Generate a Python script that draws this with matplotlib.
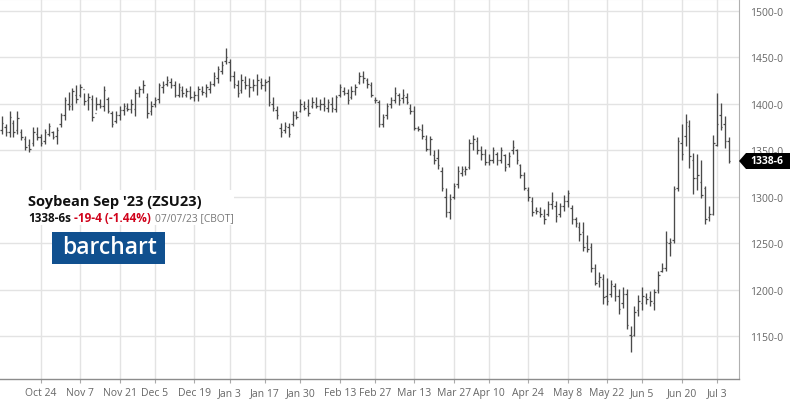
import numpy as np
import pandas as pd
import matplotlib
matplotlib.use("Agg")
import matplotlib.pyplot as plt
from matplotlib.patches import Rectangle, Polygon

plt.rcParams["font.family"] = ["Open Sans", "DejaVu Sans"]

# ---------------- data ----------------
HOLIDAYS = ["2022-11-24", "2022-12-26", "2023-01-02", "2023-01-16", "2023-02-20",
            "2023-04-07", "2023-05-29", "2023-06-19", "2023-07-04"]
DATES = pd.bdate_range("2022-10-10", "2023-07-07", freq="C", holidays=HOLIDAYS)

HIGH = [1387, 1378, 1392, 1383, 1392, 1373, 1366, 1362, 1375, 1375,
        1368, 1373, 1380, 1371, 1375, 1390, 1408, 1413, 1417, 1420,
        1422, 1412, 1412, 1410, 1408, 1405, 1419, 1408, 1392, 1392,
        1398, 1401, 1401, 1405, 1416, 1419, 1426, 1412, 1403, 1407,
        1423, 1425, 1430, 1428, 1425, 1423, 1419, 1417, 1419, 1414,
        1419, 1419, 1421, 1425, 1434, 1441, 1446, 1460, 1448, 1435,
        1426, 1432, 1430, 1428, 1427, 1432, 1428, 1427, 1430, 1407,
        1398, 1380, 1381, 1380, 1392, 1392, 1405, 1403, 1405, 1407,
        1407, 1405, 1407, 1405, 1407, 1410, 1421, 1418, 1416, 1419,
        1421, 1434, 1435, 1428, 1424, 1407, 1404, 1389, 1401, 1408,
        1418, 1412, 1416, 1412, 1400, 1398, 1376, 1378, 1367, 1366,
        1351, 1352, 1332, 1310, 1303, 1315, 1333, 1333, 1333, 1362,
        1367, 1364, 1355, 1352, 1346, 1354, 1348, 1354, 1346, 1348,
        1361, 1352, 1336, 1327, 1311, 1300, 1289, 1289, 1287, 1296,
        1305, 1296, 1294, 1302, 1307, 1291, 1278, 1273, 1273, 1259,
        1251, 1228, 1219, 1217, 1213, 1211, 1208, 1201, 1203, 1201,
        1161, 1183, 1195, 1203, 1197, 1199, 1201, 1220, 1229, 1263,
        1256, 1312, 1365, 1378, 1389, 1383, 1347, 1346, 1340, 1312,
        1290, 1367, 1412, 1401, 1387, 1365]
LOW = [1368, 1366, 1364, 1364, 1368, 1361, 1350, 1348, 1355, 1361,
       1355, 1357, 1366, 1362, 1357, 1375, 1383, 1394, 1394, 1401,
       1408, 1399, 1394, 1382, 1394, 1396, 1392, 1390, 1375, 1380,
       1383, 1388, 1392, 1390, 1387, 1408, 1412, 1385, 1388, 1397,
       1401, 1412, 1419, 1417, 1407, 1407, 1408, 1407, 1405, 1403,
       1403, 1410, 1407, 1412, 1419, 1423, 1432, 1443, 1425, 1417,
       1407, 1412, 1416, 1408, 1414, 1410, 1416, 1414, 1398, 1392,
       1384, 1364, 1369, 1364, 1376, 1384, 1391, 1394, 1387, 1396,
       1396, 1394, 1392, 1391, 1391, 1391, 1407, 1410, 1400, 1405,
       1410, 1421, 1423, 1417, 1408, 1401, 1375, 1375, 1384, 1396,
       1401, 1399, 1401, 1400, 1389, 1372, 1371, 1362, 1349, 1345,
       1335, 1330, 1306, 1278, 1276, 1298, 1310, 1323, 1324, 1330,
       1351, 1346, 1340, 1334, 1334, 1337, 1334, 1337, 1328, 1332,
       1346, 1336, 1320, 1307, 1296, 1280, 1282, 1278, 1271, 1280,
       1287, 1273, 1278, 1285, 1289, 1271, 1268, 1253, 1242, 1241,
       1219, 1205, 1203, 1185, 1184, 1192, 1188, 1174, 1181, 1158,
       1133, 1151, 1172, 1179, 1185, 1183, 1179, 1197, 1219, 1220,
       1237, 1251, 1306, 1340, 1355, 1331, 1303, 1308, 1299, 1271,
       1274, 1281, 1355, 1372, 1353, 1337]
OPEN = [1372, 1375, 1370, 1380, 1372, 1370, 1362, 1356, 1358, 1368,
        1364, 1360, 1368, 1370, 1366, 1378, 1388, 1400, 1400, 1410,
        1410, 1416, 1404, 1405, 1390, 1400, 1398, 1405, 1390, 1382,
        1388, 1394, 1396, 1395, 1395, 1412, 1416, 1408, 1392, 1400,
        1405, 1418, 1422, 1424, 1420, 1410, 1415, 1410, 1414, 1408,
        1410, 1414, 1412, 1416, 1422, 1428, 1436, 1446, 1445, 1430,
        1420, 1415, 1424, 1420, 1418, 1420, 1424, 1420, 1425, 1400,
        1394, 1374, 1372, 1375, 1378, 1388, 1392, 1398, 1398, 1398,
        1400, 1398, 1400, 1396, 1400, 1395, 1410, 1414, 1412, 1408,
        1414, 1424, 1430, 1426, 1420, 1404, 1402, 1378, 1388, 1400,
        1404, 1410, 1406, 1408, 1396, 1392, 1374, 1372, 1362, 1352,
        1345, 1342, 1328, 1300, 1284, 1300, 1314, 1326, 1328, 1332,
        1358, 1360, 1350, 1346, 1338, 1340, 1346, 1340, 1345, 1335,
        1350, 1350, 1334, 1324, 1308, 1296, 1286, 1284, 1280, 1282,
        1292, 1290, 1282, 1290, 1296, 1288, 1276, 1268, 1262, 1250,
        1246, 1224, 1210, 1212, 1194, 1196, 1204, 1194, 1186, 1196,
        1152, 1152, 1178, 1186, 1192, 1192, 1186, 1200, 1220, 1224,
        1250, 1254, 1310, 1358, 1366, 1376, 1340, 1320, 1316, 1310,
        1278, 1282, 1356, 1388, 1378, 1360]
CLOSE = [1380, 1370, 1386, 1370, 1385, 1364, 1354, 1352, 1370, 1365,
         1358, 1370, 1376, 1365, 1372, 1388, 1404, 1398, 1414, 1405,
         1418, 1403, 1408, 1386, 1400, 1398, 1415, 1393, 1378, 1388,
         1394, 1398, 1395, 1400, 1412, 1416, 1420, 1390, 1398, 1404,
         1420, 1420, 1426, 1420, 1410, 1418, 1412, 1414, 1408, 1410,
         1416, 1413, 1418, 1422, 1430, 1438, 1442, 1450, 1430, 1422,
         1412, 1426, 1420, 1418, 1420, 1426, 1420, 1424, 1402, 1396,
         1388, 1370, 1376, 1368, 1388, 1386, 1400, 1396, 1390, 1402,
         1398, 1400, 1398, 1402, 1396, 1408, 1418, 1412, 1404, 1414,
         1418, 1430, 1428, 1422, 1410, 1404, 1378, 1386, 1398, 1404,
         1412, 1404, 1410, 1402, 1392, 1374, 1373, 1366, 1352, 1362,
         1340, 1334, 1310, 1284, 1298, 1312, 1328, 1330, 1330, 1358,
         1362, 1350, 1346, 1338, 1340, 1350, 1340, 1350, 1332, 1344,
         1354, 1340, 1324, 1310, 1300, 1284, 1285, 1282, 1276, 1292,
         1296, 1280, 1290, 1296, 1304, 1276, 1272, 1260, 1246, 1244,
         1224, 1208, 1214, 1192, 1188, 1206, 1194, 1180, 1196, 1162,
         1150, 1176, 1188, 1194, 1190, 1188, 1198, 1216, 1224, 1252,
         1252, 1309, 1360, 1346, 1381, 1344, 1320, 1324, 1302, 1276,
         1282, 1358, 1378, 1375, 1360, 1338.75]

TICK_DATES = ["2022-10-24", "2022-11-07", "2022-11-21", "2022-12-05", "2022-12-19",
              "2023-01-03", "2023-01-17", "2023-01-30", "2023-02-13", "2023-02-27",
              "2023-03-13", "2023-03-27", "2023-04-10", "2023-04-24", "2023-05-08",
              "2023-05-22", "2023-06-05", "2023-06-20", "2023-07-03"]
TICK_LABELS = ["Oct 24", "Nov 7", "Nov 21", "Dec 5", "Dec 19", "Jan 3", "Jan 17",
               "Jan 30", "Feb 13", "Feb 27", "Mar 13", "Mar 27", "Apr 10", "Apr 24",
               "May 8", "May 22", "Jun 5", "Jun 20", "Jul 3"]
Y_TICKS = [1150, 1200, 1250, 1300, 1350, 1400, 1450, 1500]
LAST = "1338-6"
# -----------------------------------------------------------

W, H = 790, 406
fig = plt.figure(figsize=(W / 100, H / 100), dpi=100)
ax = fig.add_axes([0, 26 / H, 739 / W, 1 - 26 / H])

x = np.arange(len(DATES))
bar_col = "#4a4a4a"
ax.vlines(x, LOW, HIGH, color=bar_col, lw=0.95, zorder=3)
ax.hlines(OPEN, x - 0.38, x, color=bar_col, lw=0.9, zorder=3)
ax.hlines(CLOSE, x, x + 0.38, color=bar_col, lw=0.9, zorder=3)

ax.set_xlim(-0.43, 187.6)
ax.set_ylim(1104.3, 1512.9)

tick_pos = [DATES.get_loc(pd.Timestamp(d)) for d in TICK_DATES]
ax.set_xticks(tick_pos)
ax.set_xticklabels(TICK_LABELS)
ax.set_yticks(Y_TICKS)
ax.set_yticklabels([f"{v}-0" for v in Y_TICKS])
ax.yaxis.tick_right()

grid_col = "#e3e3e3"
ax.grid(True, color=grid_col, lw=1.0, zorder=0)
ax.tick_params(axis="x", length=3, width=0.8, color="#aaaaaa", pad=3,
               labelsize=7.5, labelcolor="#666666")
ax.tick_params(axis="y", length=0, pad=8, labelsize=7.5, labelcolor="#666666")
ax.spines["left"].set_visible(False)
ax.spines["top"].set_color(grid_col)
ax.spines["right"].set_color("#b0b0b0")
ax.spines["bottom"].set_color("#8c8c8c")
ax.spines["bottom"].set_linewidth(1.0)


def fx(px):
    return px / W


def fy(py):
    return 1 - py / H


# title block
fig.add_artist(Rectangle((0, fy(226)), fx(234), (226 - 191) / H,
                         transform=fig.transFigure, facecolor="white",
                         edgecolor="none", zorder=5))
fig.text(fx(28), fy(202), "Soybean Sep '23 (ZSU23)", fontsize=10.5,
         fontweight="bold", color="#111111", va="center", ha="left", zorder=6)
fig.text(fx(28), fy(219), "1338-6s", fontsize=8.5, fontweight="bold",
         color="#111111", va="center", ha="left", zorder=6)
fig.text(fx(74), fy(219), "-19-4 (-1.44%)", fontsize=8.5, fontweight="bold",
         color="#d0021b", va="center", ha="left", zorder=6)
fig.text(fx(155), fy(219), "07/07/23 [CBOT]", fontsize=7.4,
         color="#777777", va="center", ha="left", zorder=6)

# logo
fig.add_artist(Rectangle((fx(52), fy(265)), fx(165 - 52), (265 - 233) / H,
                         transform=fig.transFigure, facecolor="#10508f",
                         edgecolor="none", zorder=5))
fig.text(fx(109.5), fy(248), "barchart", fontsize=16.5, fontweight="semibold",
         color="white", va="center", ha="center", zorder=6)

# last price tag
tag_y = 162
fig.add_artist(Polygon([(fx(739), fy(tag_y)), (fx(746), fy(tag_y - 8)),
                        (fx(790), fy(tag_y - 8)), (fx(790), fy(tag_y + 8)),
                        (fx(746), fy(tag_y + 8))],
                       closed=True, transform=fig.transFigure,
                       facecolor="black", edgecolor="none", zorder=5))
fig.text(fx(767), fy(tag_y), LAST, fontsize=7.5, fontweight="bold",
         color="white", va="center", ha="center", zorder=6)

fig.savefig("out.png", dpi=100)
